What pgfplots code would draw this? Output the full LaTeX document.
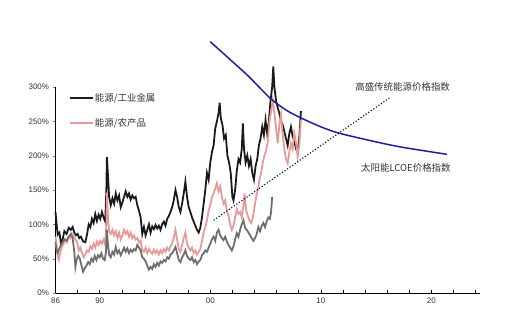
\documentclass[border=0pt]{standalone}
\usepackage{pgfplots}
\pgfplotsset{compat=1.18}
\usepackage{fontspec}
\setmainfont{Liberation Sans}
\newfontfamily\cjk{Noto Sans CJK SC}
\definecolor{blk}{HTML}{1A1A1A}
\definecolor{pnk}{HTML}{E89A9A}
\definecolor{gry}{HTML}{6E6E6E}
\definecolor{nvy}{HTML}{1E1EA0}
\definecolor{txt}{HTML}{333333}
\begin{document}
\begin{tikzpicture}[x=1bp,y=1bp]
\useasboundingbox (0,0) rectangle (512,312);
\begin{axis}[
  at={(55.5bp,19bp)}, anchor=origin,
  scale only axis, width=424.5bp, height=206bp,
  xmin=1986, xmax=2024.4, ymin=0, ymax=300,
  clip=false,
  axis lines=left, axis line style={-, line width=0.6pt, black},
  xtick={1986,1988,...,2024},
  xticklabels={86,,90,,,,,00,,,,,10,,,,,20,,},
  ytick={0,50,100,150,200,250,300},
  yticklabels={0\%,50\%,100\%,150\%,200\%,250\%,300\%},
  x tick style={black, line width=0.5pt},
  xtick align=inside, ytick align=outside,
  major tick length=3bp,
  tick label style={font=\fontsize{8}{9}\selectfont, text=txt},
  xticklabel style={yshift=-1bp},
  legend style={at={(axis cs:1987.2,293)}, anchor=north west, draw=none, fill=none,
    font=\cjk\fontsize{9.5}{10}\selectfont, text=txt, row sep=14bp, inner sep=0pt,
    nodes={inner sep=1pt}},
  legend cell align=left,
  legend image code/.code={\draw[#1, line width=2pt] (0bp,0bp) -- (23bp,0bp);},
]
% black: energy / industrial metals
\addplot[blk, line width=1.8pt] coordinates {
(1986.00,118)(1986.10,100)(1986.20,85)(1986.35,88)(1986.50,72)(1986.65,78)(1986.80,90)
(1987.00,86)(1987.20,95)(1987.40,92)(1987.55,96)(1987.70,88)(1987.85,84)
(1988.00,86)(1988.15,80)(1988.30,82)(1988.50,75)(1988.70,74)(1988.85,85)
(1989.00,100)(1989.15,96)(1989.30,108)(1989.45,102)(1989.60,115)(1989.75,105)(1989.90,114)
(1990.05,108)(1990.20,118)(1990.35,110)(1990.50,104)(1990.60,150)(1990.65,198)(1990.75,170)(1990.85,140)
(1991.00,128)(1991.15,138)(1991.30,130)(1991.45,145)(1991.60,135)(1991.75,142)(1991.90,125)
(1992.05,132)(1992.20,140)(1992.35,148)(1992.50,140)(1992.65,145)(1992.80,136)(1992.95,142)
(1993.10,138)(1993.25,140)(1993.40,128)(1993.55,120)(1993.70,110)(1993.85,86)
(1994.00,96)(1994.15,84)(1994.30,92)(1994.45,100)(1994.60,88)(1994.75,97)(1994.90,93)
(1995.05,99)(1995.20,94)(1995.35,98)(1995.50,92)(1995.65,100)(1995.80,104)(1995.95,98)
(1996.10,108)(1996.25,112)(1996.40,118)(1996.55,125)(1996.70,135)(1996.85,150)
(1997.00,140)(1997.15,125)(1997.30,118)(1997.45,130)(1997.60,145)(1997.75,162)(1997.90,140)
(1998.05,125)(1998.20,118)(1998.35,110)(1998.50,104)(1998.65,98)(1998.80,92)(1998.95,88)
(1999.10,95)(1999.25,110)(1999.40,130)(1999.55,150)(1999.70,175)(1999.85,165)
(2000.00,190)(2000.15,205)(2000.30,215)(2000.45,240)(2000.60,250)(2000.75,262)(2000.85,277)(2000.95,255)
(2001.10,245)(2001.25,225)(2001.40,230)(2001.55,200)(2001.70,190)(2001.85,175)
(2002.00,140)(2002.10,135)(2002.25,150)(2002.40,178)(2002.55,195)(2002.70,190)(2002.85,210)(2002.95,247)
(2003.05,210)(2003.20,190)(2003.35,200)(2003.50,185)(2003.65,195)(2003.80,175)(2003.95,165)
(2004.10,185)(2004.25,195)(2004.40,215)(2004.55,225)(2004.70,242)(2004.85,230)
(2005.00,252)(2005.15,232)(2005.30,250)(2005.45,280)(2005.60,300)(2005.70,330)(2005.80,300)(2005.95,280)
(2006.10,270)(2006.25,262)(2006.40,250)(2006.55,245)(2006.70,235)(2006.85,225)
(2007.00,215)(2007.15,232)(2007.30,242)(2007.45,228)(2007.60,222)(2007.75,210)(2007.90,205)
(2008.05,225)(2008.20,265)
};
\addlegendentry{能源/工业金属}
% pink: energy / agriculture
\addplot[pnk, line width=1.8pt] coordinates {
(1986.00,82)(1986.10,70)(1986.20,52)(1986.30,48)(1986.45,60)(1986.60,68)(1986.75,72)(1986.90,78)
(1987.05,74)(1987.20,82)(1987.35,80)(1987.50,86)(1987.65,82)(1987.80,78)(1987.95,74)
(1988.10,62)(1988.25,66)(1988.40,58)(1988.55,52)(1988.70,56)(1988.85,62)
(1989.00,60)(1989.15,68)(1989.30,64)(1989.45,72)(1989.60,66)(1989.75,75)(1989.90,70)
(1990.05,76)(1990.20,72)(1990.35,78)(1990.50,70)(1990.60,100)(1990.65,146)(1990.75,110)(1990.85,90)
(1991.00,86)(1991.15,92)(1991.30,84)(1991.45,90)(1991.60,80)(1991.75,88)(1991.90,78)
(1992.05,84)(1992.20,92)(1992.35,86)(1992.50,90)(1992.65,82)(1992.80,88)(1992.95,80)
(1993.10,84)(1993.25,78)(1993.40,80)(1993.55,74)(1993.70,76)(1993.85,62)
(1994.00,60)(1994.15,66)(1994.30,58)(1994.45,64)(1994.60,60)(1994.75,57)(1994.90,63)
(1995.05,58)(1995.20,62)(1995.35,56)(1995.50,62)(1995.65,58)(1995.80,64)(1995.95,60)
(1996.10,66)(1996.25,62)(1996.40,68)(1996.55,72)(1996.70,80)(1996.85,92)
(1997.00,78)(1997.15,64)(1997.30,60)(1997.45,70)(1997.60,80)(1997.75,88)(1997.90,72)
(1998.05,66)(1998.20,62)(1998.35,66)(1998.50,58)(1998.65,62)(1998.80,56)(1998.95,60)
(1999.10,64)(1999.25,76)(1999.40,88)(1999.55,96)(1999.70,106)(1999.85,120)
(2000.00,128)(2000.15,140)(2000.30,145)(2000.45,152)(2000.60,160)(2000.75,148)(2000.90,155)
(2001.05,140)(2001.20,130)(2001.35,135)(2001.50,120)(2001.65,112)(2001.80,100)(2001.95,92)
(2002.10,98)(2002.25,110)(2002.40,122)(2002.55,115)(2002.70,118)(2002.85,110)
(2003.00,128)(2003.10,145)(2003.25,120)(2003.40,112)(2003.55,105)(2003.70,102)(2003.85,110)
(2004.00,125)(2004.15,140)(2004.30,150)(2004.45,165)(2004.60,175)(2004.75,190)(2004.90,200)
(2005.05,208)(2005.20,220)(2005.35,250)(2005.50,265)(2005.65,281)(2005.80,262)(2005.95,240)
(2006.10,218)(2006.25,245)(2006.40,260)(2006.55,230)(2006.70,210)(2006.85,195)
(2007.00,189)(2007.15,205)(2007.30,218)(2007.45,210)(2007.60,233)(2007.75,220)(2007.90,198)
(2008.05,215)(2008.20,252)
};
\addlegendentry{能源/农产品}
% grey series
\addplot[gry, line width=1.8pt, forget plot] coordinates {
(1986.00,73)(1986.10,62)(1986.20,58)(1986.35,65)(1986.50,70)(1986.65,74)(1986.80,78)
(1987.00,76)(1987.20,82)(1987.40,86)(1987.55,80)(1987.70,60)(1987.80,38)(1987.90,48)
(1988.05,54)(1988.20,50)(1988.35,40)(1988.50,31)(1988.65,36)(1988.80,40)(1988.95,45)
(1989.10,42)(1989.25,50)(1989.40,46)(1989.55,54)(1989.70,48)(1989.85,55)
(1990.00,52)(1990.15,58)(1990.30,50)(1990.45,48)(1990.57,60)(1990.65,92)(1990.75,70)(1990.85,56)
(1991.00,52)(1991.15,60)(1991.30,56)(1991.45,67)(1991.60,58)(1991.75,62)(1991.90,55)
(1992.05,60)(1992.20,66)(1992.35,60)(1992.50,65)(1992.65,58)(1992.80,63)(1992.95,60)
(1993.10,64)(1993.25,62)(1993.40,70)(1993.55,66)(1993.70,62)(1993.85,52)
(1994.00,50)(1994.15,46)(1994.30,40)(1994.45,34)(1994.60,38)(1994.75,35)(1994.90,42)
(1995.05,38)(1995.20,44)(1995.35,40)(1995.50,46)(1995.65,44)(1995.80,48)(1995.95,46)
(1996.10,52)(1996.25,50)(1996.40,56)(1996.55,58)(1996.70,62)(1996.85,67)
(1997.00,58)(1997.15,48)(1997.30,45)(1997.45,52)(1997.60,56)(1997.75,62)(1997.90,54)
(1998.05,50)(1998.20,48)(1998.35,52)(1998.50,45)(1998.65,48)(1998.80,42)(1998.95,46)
(1999.10,48)(1999.25,55)(1999.40,58)(1999.55,62)(1999.70,60)(1999.85,66)
(2000.00,72)(2000.15,78)(2000.30,82)(2000.45,76)(2000.60,88)(2000.75,92)(2000.90,84)
(2001.05,80)(2001.20,77)(2001.35,82)(2001.50,75)(2001.65,70)(2001.80,66)(2001.95,62)
(2002.10,68)(2002.25,78)(2002.40,87)(2002.55,82)(2002.70,92)(2002.85,100)
(2003.00,106)(2003.15,95)(2003.30,92)(2003.45,88)(2003.60,84)(2003.75,80)(2003.90,76)
(2004.05,80)(2004.20,86)(2004.35,96)(2004.50,90)(2004.65,98)(2004.80,102)(2004.95,96)
(2005.10,104)(2005.25,110)(2005.40,108)(2005.50,118)(2005.60,140)
};
% blue curve
\addplot[nvy, line width=1.5pt, smooth, forget plot] coordinates {
(2000.0,366)(2002.0,337)(2003.5,315)(2005.4,284)(2006.9,266)(2008.2,255)(2010.0,242)
(2011.6,233)(2014.2,223)(2017.1,213)(2021.4,202)
};
% dotted line
\addplot[black, line width=1.1pt, dotted, forget plot] coordinates {(2000.3,106)(2016.2,284)};
\node[font=\cjk\fontsize{9.5}{10}\selectfont, text=txt] at (axis cs:2017.4,300) {高盛传统能源价格指数};
\node[font=\cjk\fontsize{9.5}{10}\selectfont, text=txt] at (axis cs:2017.7,182) {太阳能LCOE价格指数};
\end{axis}
\end{tikzpicture}
\end{document}
